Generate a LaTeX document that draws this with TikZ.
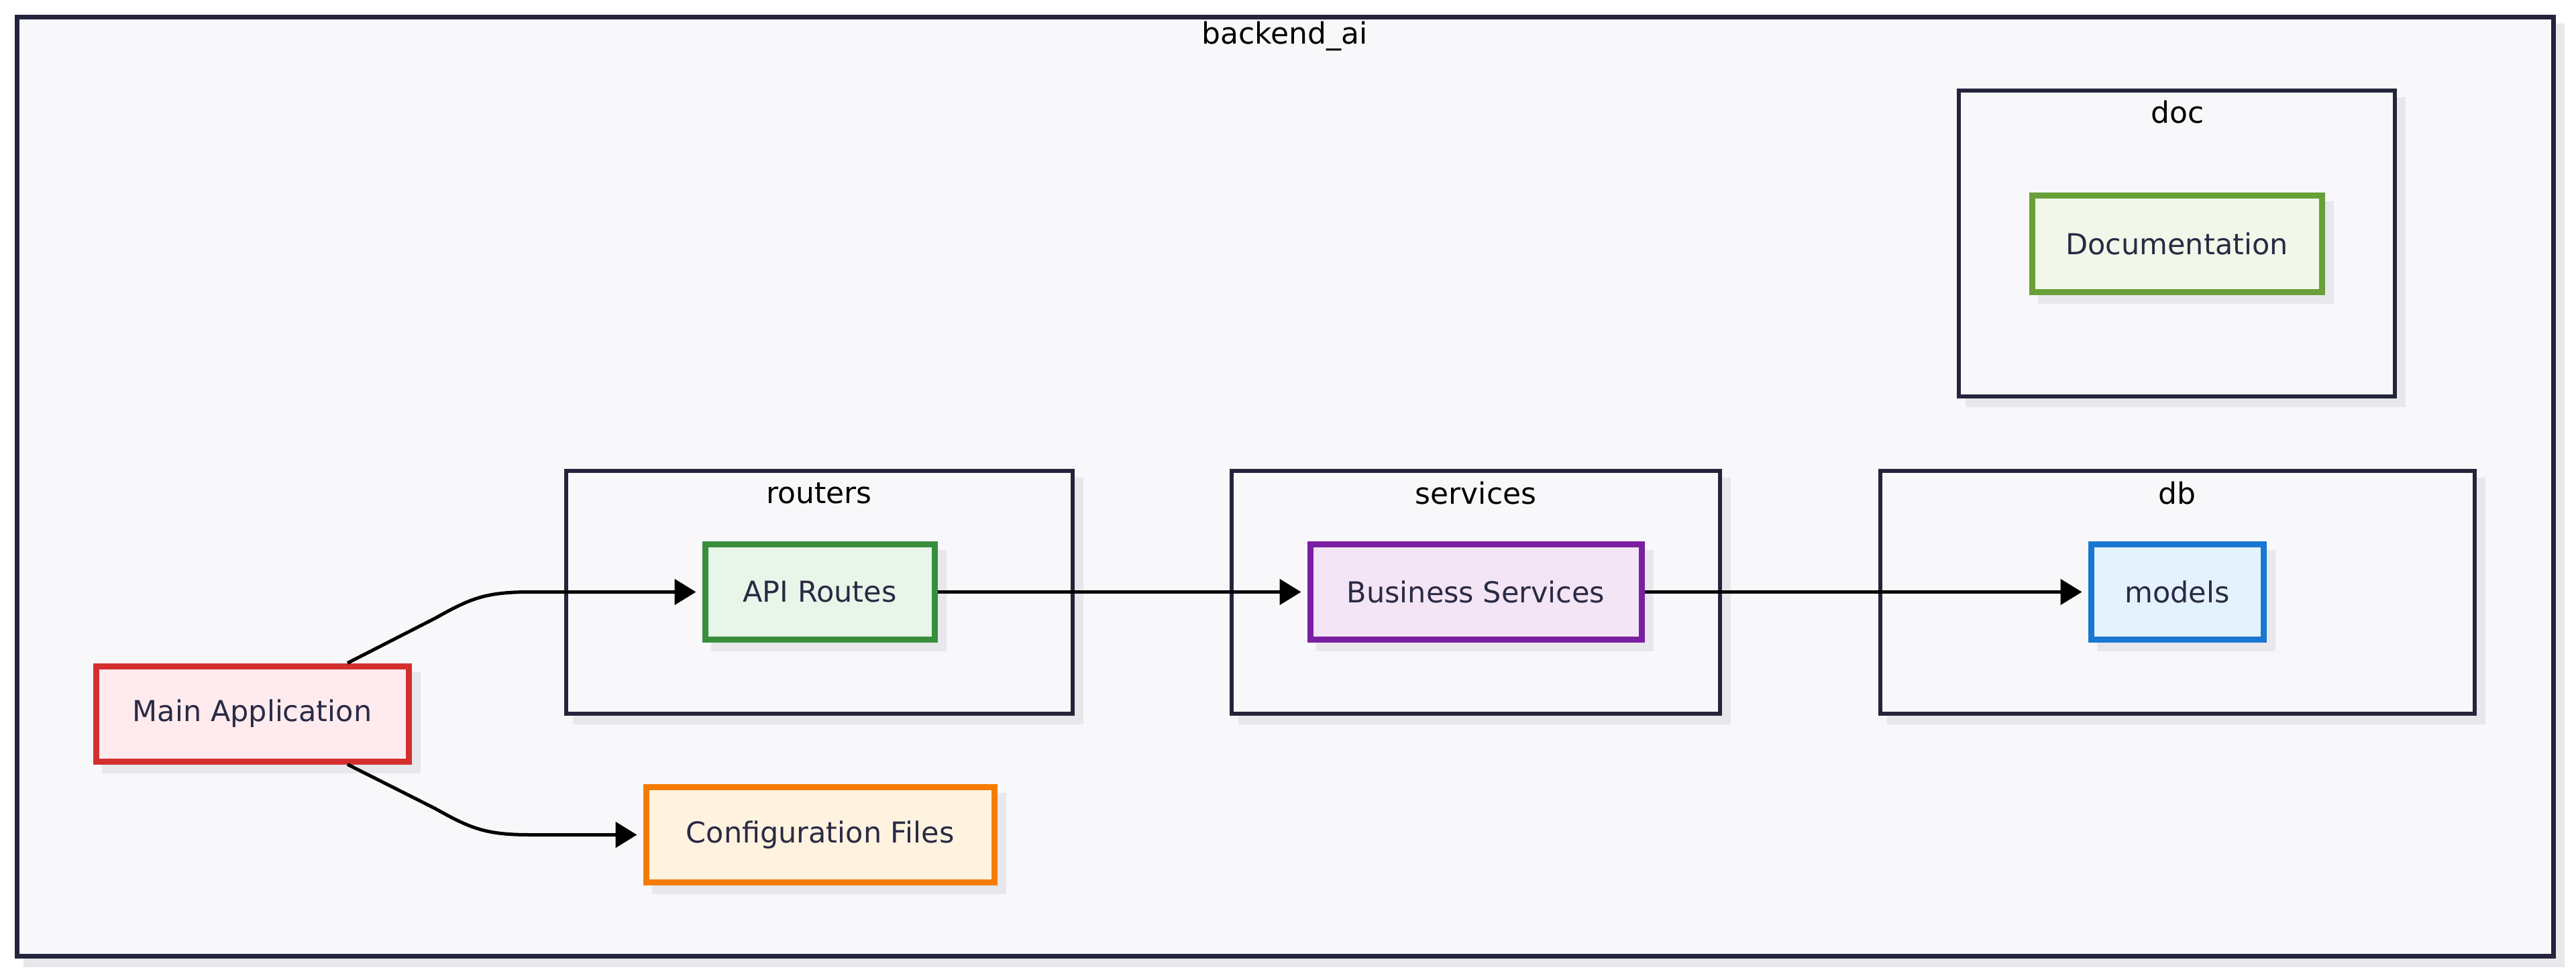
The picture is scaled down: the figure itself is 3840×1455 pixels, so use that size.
\documentclass[tikz,border=0pt]{standalone}
\usepackage{fontspec}
\setmainfont{DejaVu Sans}
\usetikzlibrary{arrows.meta,shadows}
\definecolor{bgc}{HTML}{F8F8FA}
\definecolor{framec}{HTML}{24243C}
\definecolor{shadowc}{HTML}{E8E8EC}
\definecolor{txtc}{HTML}{2A2A44}
\definecolor{redS}{HTML}{D32F2F}\definecolor{redF}{HTML}{FFEBEE}
\definecolor{grnS}{HTML}{388E3C}\definecolor{grnF}{HTML}{E8F5E9}
\definecolor{orgS}{HTML}{F57C00}\definecolor{orgF}{HTML}{FFF3E0}
\definecolor{purS}{HTML}{7B1FA2}\definecolor{purF}{HTML}{F3E5F5}
\definecolor{bluS}{HTML}{1976D2}\definecolor{bluF}{HTML}{E3F2FD}
\definecolor{limS}{HTML}{689F38}\definecolor{limF}{HTML}{F1F8E9}
\tikzset{
  shd/.style={general shadow={draw=shadowc, fill=shadowc, shadow xshift=6.5pt, shadow yshift=-6.5pt}},
  nbox/.style={draw, rectangle, line width=4.5pt, shd, text=txtc, font=\fontsize{21.5}{24}\selectfont, inner sep=0pt, minimum height=70.75pt},
  grp/.style={draw=framec, fill=bgc, rectangle, line width=3pt, shd, inner sep=0pt},
  grplabel/.style={text=black, font=\fontsize{22}{26}\selectfont, inner sep=0pt},
  conn/.style={line width=2.5pt, black, line join=round, -{Triangle[length=16pt,width=19pt]}, shorten >=4.5pt}
}
\begin{document}
\begin{tikzpicture}[x=0.5pt,y=-0.5pt]
\useasboundingbox[fill=white] (0,0) rectangle (3840,1455);
% outer frame
\node[draw=framec, fill=bgc, line width=3.5pt, shd, inner sep=0pt, minimum width=1890.25pt, minimum height=699.75pt] (outer) at (1915.75,725.25) {};
\node[grplabel] (tOuter) at (1915,54) {backend\_ai};
% groups
\node[grp, minimum width=325pt, minimum height=228pt] (gdoc) at (3245,363) {};
\node[grplabel] (tdoc) at (3246,167) {doc};
\node[grp, minimum width=377.5pt, minimum height=181pt] (grouters) at (1221.5,883) {};
\node[grplabel] (trouters) at (1221,735) {routers};
\node[grp, minimum width=364pt, minimum height=181pt] (gservices) at (2200,883) {};
\node[grplabel] (tservices) at (2200,735) {services};
\node[grp, minimum width=443pt, minimum height=181pt] (gdb) at (3246,883) {};
\node[grplabel] (tdb) at (3245,735) {db};
% nodes
\node[nbox, draw=redS, fill=redF, minimum width=233pt, minimum height=71pt] (main) at (376,1064) {Main Application};
\node[nbox, draw=grnS, fill=grnF, minimum width=171pt] (api) at (1222,882.5) {API Routes};
\node[nbox, draw=orgS, fill=orgF, minimum width=259.5pt] (conf) at (1222.5,1244.5) {Configuration Files};
\node[nbox, draw=purS, fill=purF, minimum width=247pt] (bus) at (2200,882.5) {Business Services};
\node[nbox, draw=bluS, fill=bluF, minimum width=128.5pt] (models) at (3245.5,882.5) {models};
\node[nbox, draw=limS, fill=limF, minimum width=216pt, minimum height=71.5pt] (docn) at (3245,363.5) {Documentation};
% connectors
\draw[conn] ([xshift=71pt]main.north) -- (648,922) .. controls (700,893) and (722,882.5) .. (790,882.5) -- (api.west);
\draw[conn] ([xshift=71pt]main.south) -- (648,1205) .. controls (700,1234) and (722,1244.5) .. (790,1244.5) -- (conf.west);
\draw[conn] (api.east) -- (bus.west);
\draw[conn] (bus.east) -- (models.west);
\end{tikzpicture}
\end{document}
